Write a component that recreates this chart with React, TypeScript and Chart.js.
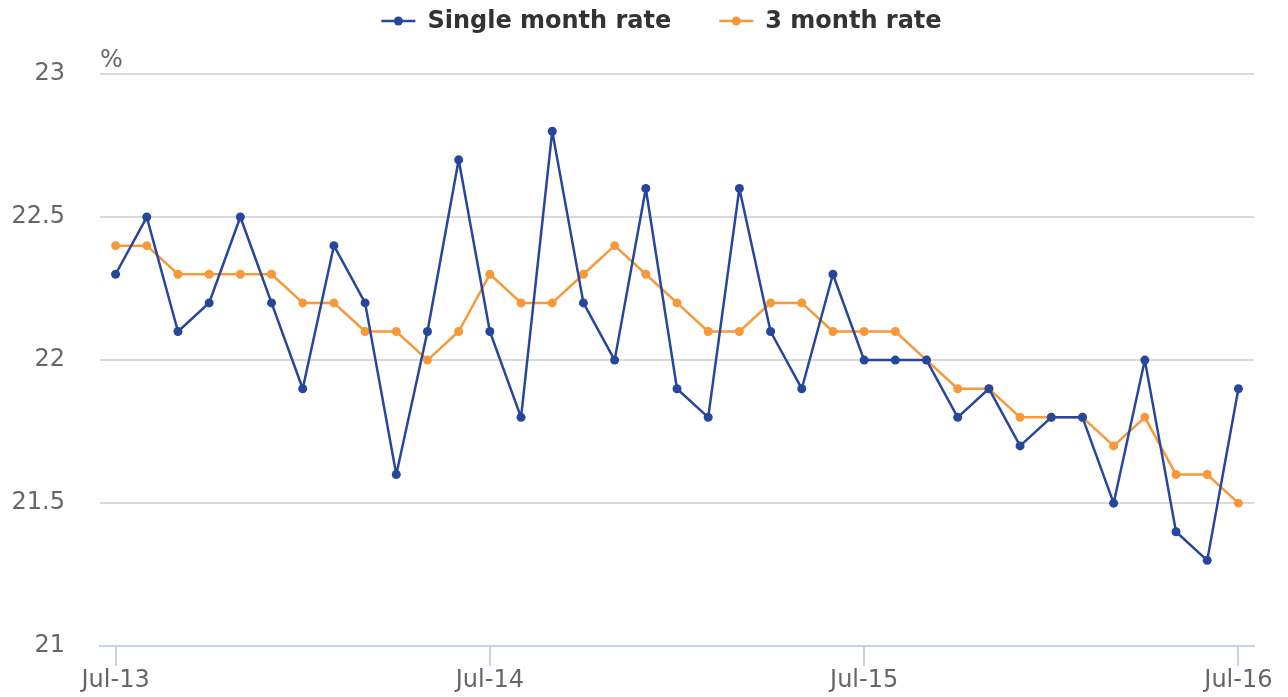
import React, { useEffect, useRef } from "react";
import { Chart, registerables } from "chart.js";

Chart.register(...registerables);

const months = [
  "Jul-13", "Aug-13", "Sep-13", "Oct-13", "Nov-13", "Dec-13",
  "Jan-14", "Feb-14", "Mar-14", "Apr-14", "May-14", "Jun-14",
  "Jul-14", "Aug-14", "Sep-14", "Oct-14", "Nov-14", "Dec-14",
  "Jan-15", "Feb-15", "Mar-15", "Apr-15", "May-15", "Jun-15",
  "Jul-15", "Aug-15", "Sep-15", "Oct-15", "Nov-15", "Dec-15",
  "Jan-16", "Feb-16", "Mar-16", "Apr-16", "May-16", "Jun-16",
  "Jul-16",
];

const singleMonthRate = [
  22.3, 22.5, 22.1, 22.2, 22.5, 22.2,
  21.9, 22.4, 22.2, 21.6, 22.1, 22.7,
  22.1, 21.8, 22.8, 22.2, 22.0, 22.6,
  21.9, 21.8, 22.6, 22.1, 21.9, 22.3,
  22.0, 22.0, 22.0, 21.8, 21.9, 21.7,
  21.8, 21.8, 21.5, 22.0, 21.4, 21.3,
  21.9,
];

const threeMonthRate = [
  22.4, 22.4, 22.3, 22.3, 22.3, 22.3,
  22.2, 22.2, 22.1, 22.1, 22.0, 22.1,
  22.3, 22.2, 22.2, 22.3, 22.4, 22.3,
  22.2, 22.1, 22.1, 22.2, 22.2, 22.1,
  22.1, 22.1, 22.0, 21.9, 21.9, 21.8,
  21.8, 21.8, 21.7, 21.8, 21.6, 21.6,
  21.5,
];

const seriesNames = ["Single month rate", "3 month rate"];
const seriesColors = ["#27479a", "#f7993a"];
const yTicks = [21, 21.5, 22, 22.5, 23];
const yTickLabels = ["21", "21.5", "22", "22.5", "23"];
const unitLabel = "%";

const FONT = "'DejaVu Sans', sans-serif";

const customLegend = {
  id: "customLegend",
  afterDraw(chart: any) {
    const ctx = chart.ctx;
    ctx.save();
    ctx.font = `bold 24px ${FONT}`;
    const lineW = 34;
    const gapText = 12;
    const gapItems = 48;
    const widths = seriesNames.map((n) => lineW + gapText + ctx.measureText(n).width);
    const total = widths.reduce((a, b) => a + b, 0) + gapItems * (widths.length - 1);
    let x = 661.5 - total / 2;
    const y = 21;
    seriesNames.forEach((name, i) => {
      ctx.strokeStyle = seriesColors[i];
      ctx.lineWidth = 2.5;
      ctx.beginPath();
      ctx.moveTo(x, y);
      ctx.lineTo(x + lineW, y);
      ctx.stroke();
      ctx.fillStyle = seriesColors[i];
      ctx.beginPath();
      ctx.arc(x + lineW / 2, y, 4.5, 0, Math.PI * 2);
      ctx.fill();
      ctx.fillStyle = "#333333";
      ctx.textBaseline = "middle";
      ctx.textAlign = "left";
      ctx.fillText(name, x + lineW + gapText, y + 1);
      x += widths[i] + gapItems;
    });
    ctx.font = `24px ${FONT}`;
    ctx.fillStyle = "#666666";
    ctx.textBaseline = "bottom";
    ctx.fillText(unitLabel, chart.chartArea.left, chart.chartArea.top - 1);
    ctx.restore();
  },
};

export default function App() {
  const ref = useRef<HTMLCanvasElement | null>(null);
  useEffect(() => {
    if (!ref.current) return;
    const mk = (i: number, data: number[]) => ({
      label: seriesNames[i],
      data,
      borderColor: seriesColors[i],
      backgroundColor: seriesColors[i],
      borderWidth: 2.5,
      borderJoinStyle: "round" as const,
      pointRadius: 4.5,
      pointBorderWidth: 0,
      pointHoverRadius: 4.5,
      tension: 0,
    });
    const chart = new Chart(ref.current, {
      type: "line",
      data: {
        labels: months,
        datasets: [mk(0, singleMonthRate), mk(1, threeMonthRate)],
      },
      options: {
        animation: false,
        responsive: false,
        maintainAspectRatio: false,
        layout: { padding: { top: 74, right: 34, bottom: 2, left: 0 } },
        plugins: {
          legend: { display: false },
          tooltip: { enabled: false },
        },
        scales: {
          x: {
            type: "category",
            offset: true,
            grid: {
              offset: false,
              drawOnChartArea: false,
              drawTicks: true,
              tickLength: 20,
              tickColor: "#c6d3e6",
              lineWidth: 2,
            },
            border: { display: true, color: "#c6d3e6", width: 2 },
            ticks: {
              autoSkip: false,
              maxRotation: 0,
              padding: 0,
              color: "#666666",
              font: { family: FONT, size: 24 },
              callback: function (this: any, value: any, index: number) {
                const lab = months[index];
                return lab.startsWith("Jul") ? lab : null;
              },
            },
          },
          y: {
            type: "linear",
            min: yTicks[0],
            max: yTicks[yTicks.length - 1],
            afterFit: (scale: any) => {
              scale.width = 100;
            },
            afterBuildTicks: (scale: any) => {
              scale.ticks = yTicks.map((v) => ({ value: v }));
            },
            grid: {
              drawTicks: false,
              color: (c: any) => (c.tick && c.tick.value === yTicks[0] ? "rgba(0,0,0,0)" : "#d9d9d9"),
              lineWidth: 2,
            },
            border: { display: false },
            ticks: {
              padding: 35,
              color: "#666666",
              font: { family: FONT, size: 24 },
              callback: (value: any) => {
                const i = yTicks.indexOf(Number(value));
                return i >= 0 ? yTickLabels[i] : String(value);
              },
            },
          },
        },
      },
      plugins: [customLegend],
    });
    return () => chart.destroy();
  }, []);
  return (
    <div style={{ position: "fixed", left: 0, top: 0, width: 1288, height: 697, background: "#fff" }}>
      <canvas ref={ref} width={1288} height={697} style={{ width: 1288, height: 697 }} />
    </div>
  );
}
